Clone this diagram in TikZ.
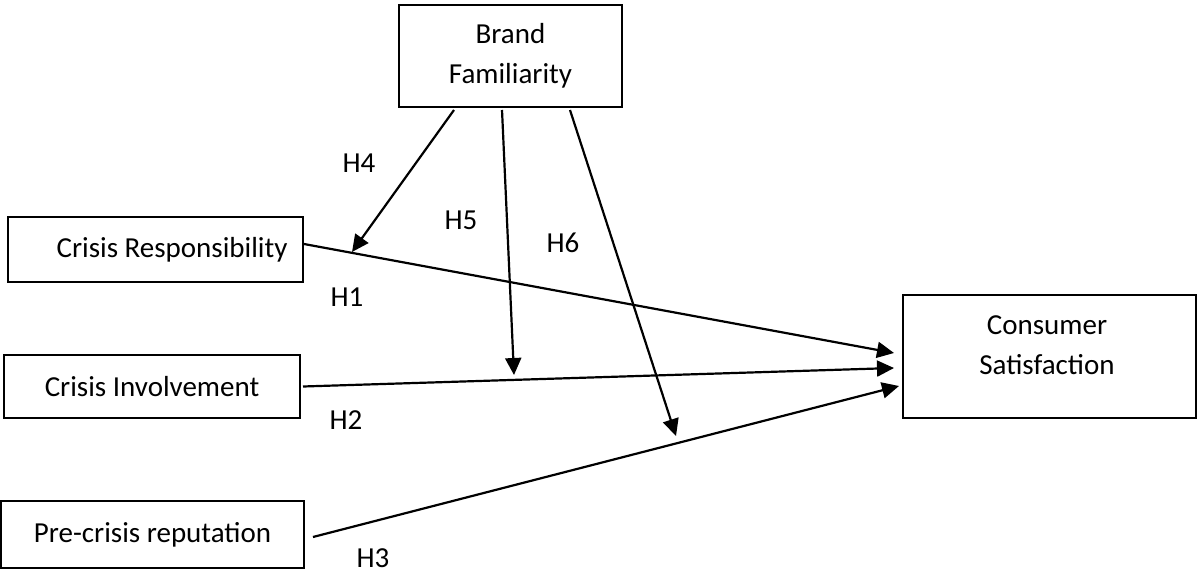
\documentclass[tikz,border=0pt]{standalone}
\usepackage{fontspec}
\setmainfont{Carlito}
\usetikzlibrary{arrows.meta}
\begin{document}
\begin{tikzpicture}[x=1pt,y=-1pt,
  box/.style={draw, line width=2pt, inner sep=0pt, font=\fontsize{29}{40}\selectfont, align=center},
  lbl/.style={inner sep=0pt, font=\fontsize{29}{40}\selectfont},
  conn/.style={line width=2.2pt, -{Triangle[length=17pt,width=16pt]}}]
\useasboundingbox (0,0) rectangle (1197,572);
\fill[white] (0,0) rectangle (1197,572);

\node[box, minimum width=223pt, minimum height=102pt] (bf) at (510.5,56) {Brand\\Familiarity};
\node[box, minimum width=295pt, minimum height=65pt, text width=264pt, align=flush right, inner xsep=15.5pt] (cr) at (155.5,249.5) {Crisis Responsibility};
\node[box, minimum width=296pt, minimum height=63pt] (ci) at (152,386.5) {Crisis Involvement};
\node[box, minimum width=303pt, minimum height=67pt] (pr) at (152.5,534.5) {Pre-crisis reputation};
\node[box, minimum width=293pt, minimum height=123pt] (cs) at (1049.5,356.5) {};
\node[lbl, align=center] (cst) at (1047,345) {Consumer\\Satisfaction};

\node[lbl] (h1) at (347,297) {H1};
\node[lbl] (h2) at (346,420) {H2};
\node[lbl] (h3) at (373,558) {H3};
\node[lbl] (h4) at (359,163) {H4};
\node[lbl] (h5) at (461,220) {H5};
\node[lbl] (h6) at (563,243) {H6};

\coordinate (t4) at (352,252);
\coordinate (t5) at (514,375);
\coordinate (t6) at (676,436);

\draw[conn] ([xshift=-56.5pt,yshift=-2pt]bf.south) -- (t4);
\draw[conn] ([xshift=-8.5pt,yshift=-2pt]bf.south) -- (t5);
\draw[conn] ([xshift=59.5pt,yshift=-2pt]bf.south) -- (t6);
\draw[conn] ([yshift=5.5pt]cr.east) -- ([xshift=-8pt,yshift=3.5pt]cs.west);
\draw[conn] ([xshift=2pt]ci.east) -- ([xshift=-8pt,yshift=-11.5pt]cs.west);
\draw[conn] ([xshift=8pt,yshift=-2.5pt]pr.east) -- ([xshift=-3pt,yshift=-29.5pt]cs.west);
\end{tikzpicture}
\end{document}
